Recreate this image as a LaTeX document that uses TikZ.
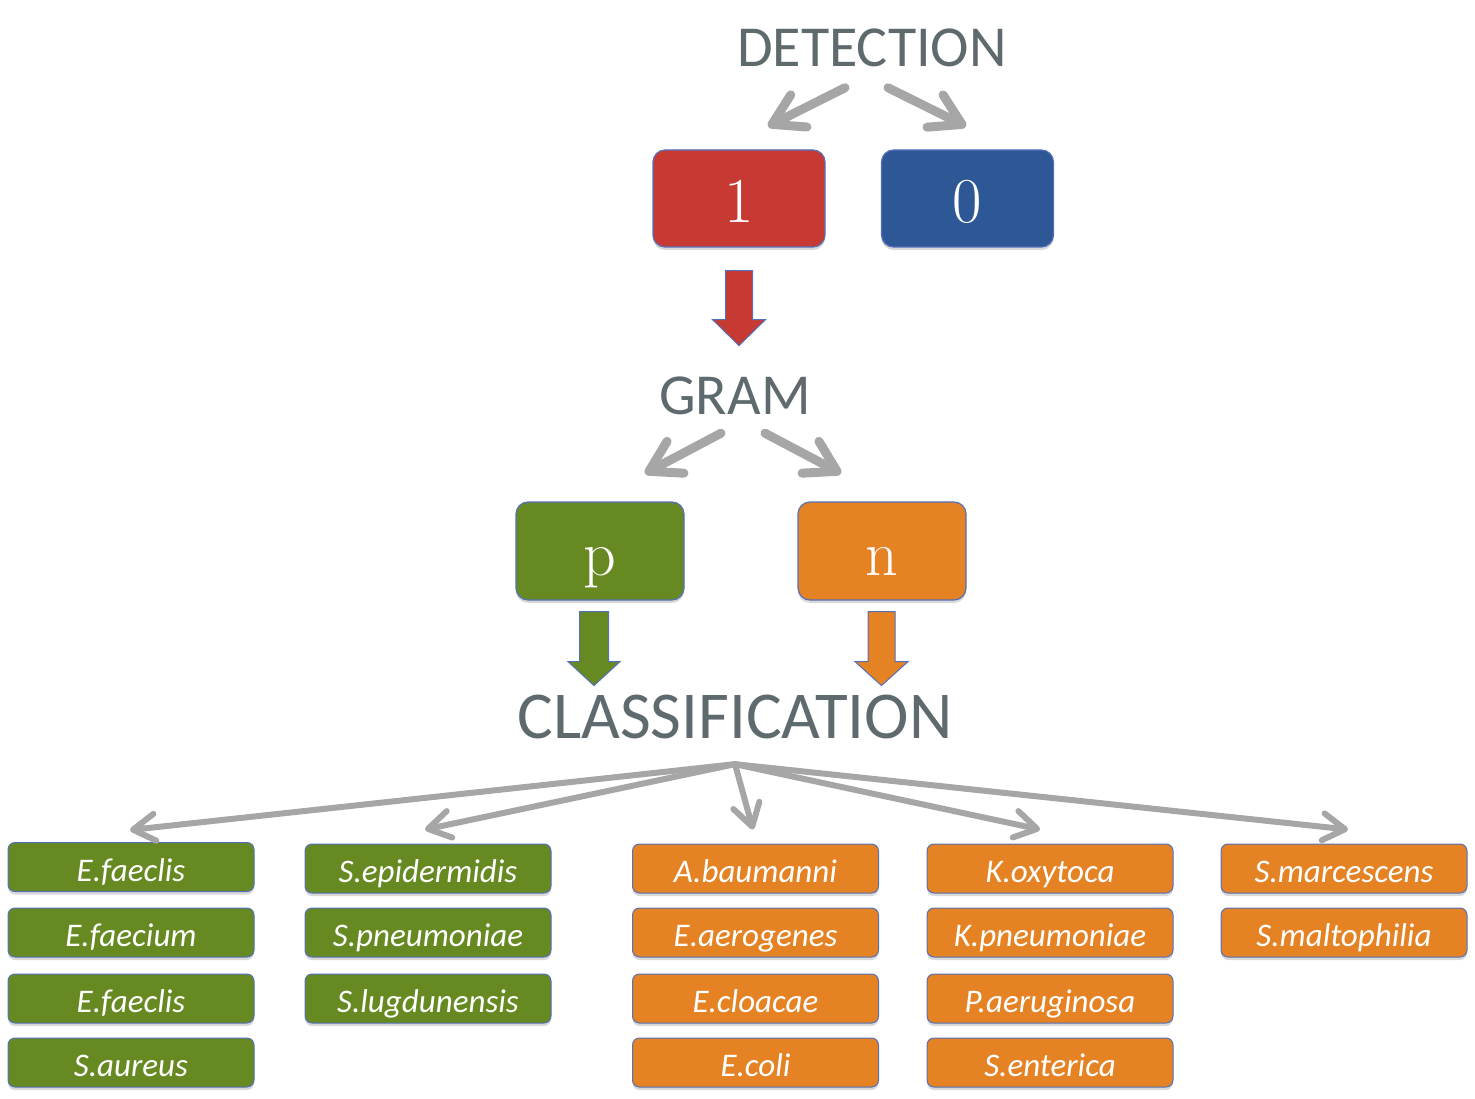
\documentclass[tikz,border=0pt]{standalone}
\usepackage{fontspec}
\newfontfamily\calfont{Carlito}
\usetikzlibrary{arrows.meta,calc,shadows}
\definecolor{titlegray}{RGB}{94,106,109}
\definecolor{arrowgray}{RGB}{166,166,166}
\definecolor{edgeblue}{RGB}{84,112,186}
\definecolor{boxred}{RGB}{199,58,52}
\definecolor{boxblue}{RGB}{46,88,149}
\definecolor{leafgreen}{RGB}{102,138,33}
\definecolor{leaforange}{RGB}{229,131,36}
% block arrow: style, start, tip, half shaft width, half head width, head length
\newcommand\fatarrow[6]{%
  \filldraw[#1] let \p1=(#2), \p2=(#3) in
    (\x1-#4,\y1) -- (\x1+#4,\y1) -- (\x1+#4,\y2+#6) -- (\x1+#5,\y2+#6)
    -- (\x2,\y2) -- (\x1-#5,\y2+#6) -- (\x1-#4,\y2+#6) -- cycle;}
\begin{document}
\begin{tikzpicture}[x=1pt,y=-1pt,
  title/.style={font=\calfont\fontsize{58}{60}\selectfont, text=titlegray, inner sep=0pt},
  softshadow/.style={drop shadow={shadow xshift=0pt, shadow yshift=-3pt, opacity=0.3}},
  bigbox/.style={draw=edgeblue, line width=1.2pt, rounded corners=12pt,
    minimum width=172pt, minimum height=97pt, text=white,
    font=\fontsize{64}{64}\selectfont, text height=48pt, text depth=0pt,
    inner sep=0pt, softshadow},
  leaf/.style={draw=edgeblue, line width=1pt, rounded corners=7pt,
    minimum width=246pt, minimum height=49pt, text=white,
    font=\calfont\itshape\fontsize{33}{33}\selectfont, text height=28pt,
    text depth=0pt, inner sep=0pt, softshadow},
  gpos/.style={leaf, fill=leafgreen},
  gneg/.style={leaf, fill=leaforange},
  bigbarb/.style={draw=arrowgray, line width=9pt, line cap=round,
    -{Straight Barb[length=30pt, width=36pt, round]}},
  smallbarb/.style={draw=arrowgray, line width=6pt, line cap=round,
    -{Straight Barb[length=22pt, width=27pt, round]}},
  fat/.style={draw=edgeblue, line width=1pt, line join=miter}
]
\useasboundingbox (0,0) rectangle (1475,1099);

% titles
\node[title] (det) at (872,48) {DETECTION};
\node[title] (gram) at (735,396) {GRAM};
\node[title, font=\calfont\fontsize{67}{69}\selectfont] (cls) at (735,717) {CLASSIFICATION};

% detection outcome
\node[bigbox, fill=boxred] (one) at (739,198.5) {1};
\node[bigbox, fill=boxblue] (zero) at (967.5,198.5) {0};

% gram outcome
\node[bigbox, fill=leafgreen, minimum width=168pt, minimum height=98pt] (pos) at (600,551) {p};
\node[bigbox, fill=leaforange, minimum width=168pt, minimum height=98pt] (neg) at (882,551) {n};

% detection branches
\draw[bigbarb] ($(det.south)+(-27,20.5)$) -- ($(one.north)+(29,-23)$);
\draw[bigbarb] ($(det.south)+(16,20.5)$) -- ($(zero.north)+(-1.5,-23)$);

% gram branches
\draw[bigbarb] ($(gram.south)+(-14,18)$) -- ($(pos.north)+(45,-28)$);
\draw[bigbarb] ($(gram.south)+(30,18)$) -- ($(neg.north)+(-41,-28)$);

% block arrows
\fatarrow{fat, fill=boxred}{$(one.south)+(0,23)$}{$(one.south)+(0,98)$}{13.5pt}{26.5pt}{26pt}
\fatarrow{fat, fill=leafgreen}{$(pos.south)+(-6,11)$}{$(pos.south)+(-6,85)$}{14.5pt}{26pt}{24pt}
\fatarrow{fat, fill=leaforange}{$(neg.south)+(-0.5,11)$}{$(neg.south)+(-0.5,85)$}{13.5pt}{26.5pt}{24pt}

% species, gram positive
\node[gpos] (a1) at (131,867) {E.faeclis};
\node[gpos] (a2) at (131,932.5) {E.faecium};
\node[gpos] (a3) at (131,998.5) {E.faeclis};
\node[gpos] (a4) at (131,1062.5) {S.aureus};
\node[gpos] (b1) at (428,868.5) {S.epidermidis};
\node[gpos] (b2) at (428,932.5) {S.pneumoniae};
\node[gpos] (b3) at (428,998.5) {S.lugdunensis};

% species, gram negative
\node[gneg] (c1) at (755.5,868.5) {A.baumanni};
\node[gneg] (c2) at (755.5,932.5) {E.aerogenes};
\node[gneg] (c3) at (755.5,998.5) {E.cloacae};
\node[gneg] (c4) at (755.5,1062.5) {E.coli};
\node[gneg] (d1) at (1050,868.5) {K.oxytoca};
\node[gneg] (d2) at (1050,932.5) {K.pneumoniae};
\node[gneg] (d3) at (1050,998.5) {P.aeruginosa};
\node[gneg] (d4) at (1050,1062.5) {S.enterica};
\node[gneg] (e1) at (1344,868.5) {S.marcescens};
\node[gneg] (e2) at (1344,932.5) {S.maltophilia};

% classification fan
\coordinate (hub) at ($(cls.south)+(0,25)$);
\draw[smallbarb] (hub) -- ($(a1.north)+(-1,-12)$);
\draw[smallbarb] (hub) -- ($(b1.north)+(-3,-14)$);
\draw[smallbarb] (hub) -- ($(c1.north)+(-2.5,-14)$);
\draw[smallbarb] (hub) -- ($(d1.north)+(-10,-14)$);
\draw[smallbarb] (hub) -- ($(e1.north)+(4,-14)$);
\end{tikzpicture}
\end{document}
